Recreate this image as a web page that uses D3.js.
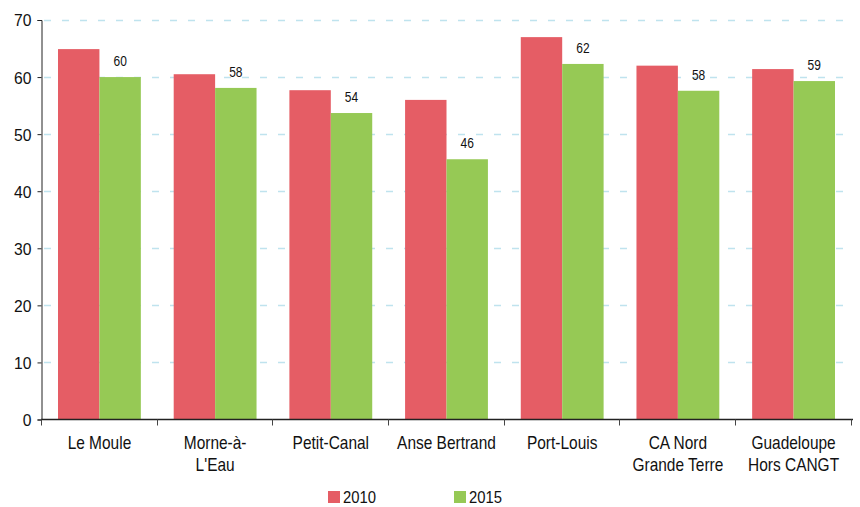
<!DOCTYPE html>
<html>
<head>
<meta charset="utf-8">
<script src="https://cdn.jsdelivr.net/npm/d3@7"></script>
<style>
  html, body { margin: 0; padding: 0; background: #fff; }
  svg { display: block; }
  text { font-family: "Liberation Sans", Arial, sans-serif; fill: #111; }
</style>
</head>
<body>
<svg id="chart" width="860" height="507"></svg>
<script>
// Communes and aggregates
const categories = [
  ["Le Moule"],
  ["Morne-à-", "L'Eau"],
  ["Petit-Canal"],
  ["Anse Bertrand"],
  ["Port-Louis"],
  ["CA Nord", "Grande Terre"],
  ["Guadeloupe", "Hors CANGT"]
];
const seriesNames = ["2010", "2015"];
const values2010 = [64.9, 60.5, 57.7, 56.0, 67.0, 62.0, 61.4];
const values2015 = [60.0, 58.1, 53.7, 45.6, 62.3, 57.6, 59.3];
const yTicks = [0, 10, 20, 30, 40, 50, 60, 70];
const colors = ["#e55d65", "#96c955"];

const svg = d3.select("#chart");
const margin = { left: 41, right: 8, top: 20 };
const W = 860;
const y0 = 419.5;

const x = d3.scaleBand()
  .domain(d3.range(categories.length))
  .range([margin.left, W - margin.right])
  .paddingInner(0.284)
  .paddingOuter(0.147);
const band = x.step();
const y = d3.scaleLinear().domain([0, 70]).range([y0, margin.top]);
const xSub = d3.scaleBand().domain(seriesNames).range([0, x.bandwidth()]);

// Narrow lettering: draw text at (data-x, data-y) squeezed horizontally
function narrowText(sel, sx) {
  sel.attr("transform", function () {
    const t = d3.select(this);
    return `translate(${t.attr("data-x")},${t.attr("data-y")}) scale(${sx},1)`;
  });
}

// Dashed gridlines
svg.append("g")
  .selectAll("line")
  .data(yTicks.filter(d => d > 0))
  .join("line")
  .attr("x1", margin.left + 1)
  .attr("x2", W - margin.right)
  .attr("y1", d => Math.round(y(d)) + 0.5)
  .attr("y2", d => Math.round(y(d)) + 0.5)
  .attr("stroke", "#bfe3ee")
  .attr("stroke-width", 1.5)
  .attr("stroke-dasharray", "7,11")
  .attr("stroke-dashoffset", -2);

// Bars
const data = categories.map((c, i) => ({ i, vals: [values2010[i], values2015[i]] }));
const groups = svg.append("g").selectAll("g")
  .data(data)
  .join("g")
  .attr("transform", d => `translate(${x(d.i)},0)`);

groups.selectAll("rect")
  .data(d => d.vals.map((v, k) => ({ k, v })))
  .join("rect")
  .attr("x", d => xSub(seriesNames[d.k]))
  .attr("width", xSub.bandwidth())
  .attr("y", d => y(d.v))
  .attr("height", d => y0 - y(d.v))
  .attr("fill", d => colors[d.k]);

// Value labels on 2015 bars
groups.append("text")
  .attr("data-x", xSub("2015") + xSub.bandwidth() / 2)
  .attr("data-y", d => y(d.vals[1]) - 11)
  .attr("text-anchor", "middle")
  .attr("font-size", 15)
  .text(d => Math.round(d.vals[1]))
  .call(narrowText, 0.8);

// Y axis
const yAxis = d3.axisLeft(y).tickValues(yTicks).tickSize(4).tickPadding(6);
const gy = svg.append("g")
  .attr("transform", `translate(${margin.left + 0.5},0)`)
  .call(yAxis);
gy.select(".domain").attr("stroke", "#222");
gy.selectAll(".tick line").attr("stroke", "#222");
gy.selectAll(".tick text")
  .attr("font-size", 16.5)
  .attr("font-family", "'Liberation Sans', Arial, sans-serif")
  .attr("fill", "#111")
  .attr("dy", "0.36em")
  .attr("data-x", -10)
  .attr("data-y", 0)
  .attr("x", null)
  .call(narrowText, 0.95);

// X axis with ticks at band boundaries
const boundaries = d3.range(categories.length + 1).map(i => margin.left + i * band);
const gx = svg.append("g");
gx.append("line")
  .attr("x1", margin.left).attr("x2", W - margin.right + 1)
  .attr("y1", y0).attr("y2", y0)
  .attr("stroke", "#222").attr("stroke-width", 1.5);
gx.selectAll("line.tk")
  .data(boundaries)
  .join("line")
  .attr("class", "tk")
  .attr("x1", d => Math.round(d) + 0.5).attr("x2", d => Math.round(d) + 0.5)
  .attr("y1", y0).attr("y2", y0 + 6)
  .attr("stroke", "#444");

// Category labels
const lbl = svg.append("g").selectAll("text")
  .data(categories)
  .join("text")
  .attr("text-anchor", "middle")
  .attr("font-size", 18)
  .attr("data-x", (d, i) => x(i) + x.bandwidth() / 2)
  .attr("data-y", 449)
  .call(narrowText, 0.86);
lbl.selectAll("tspan")
  .data(d => d)
  .join("tspan")
  .attr("x", 0)
  .attr("dy", (d, j) => j === 0 ? 0 : 22)
  .text(d => d);

// Legend
const legendX = [328, 454];
const leg = svg.append("g").selectAll("g")
  .data(seriesNames)
  .join("g")
  .attr("transform", (d, i) => `translate(${legendX[i]},491)`);
leg.append("rect")
  .attr("width", 12).attr("height", 12)
  .attr("fill", (d, i) => colors[i]);
leg.append("text")
  .attr("data-x", 15).attr("data-y", 12)
  .attr("font-size", 16.5)
  .text(d => d)
  .call(narrowText, 0.9);
</script>
</body>
</html>
